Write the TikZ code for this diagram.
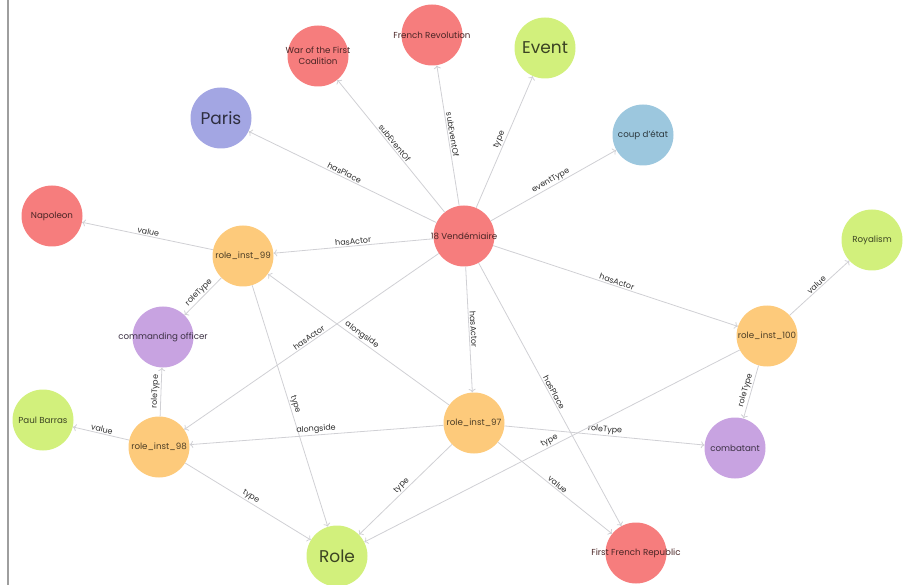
\documentclass[tikz,border=0pt]{standalone}
\usepackage{fontspec}
\setmainfont{Poppins}
\usetikzlibrary{arrows.meta}

\definecolor{nred}{HTML}{F67D7D}
\definecolor{ngreen}{HTML}{D2F07C}
\definecolor{nblue}{HTML}{A3A6E3}
\definecolor{ncyan}{HTML}{9CC7DE}
\definecolor{norange}{HTML}{FDCA7B}
\definecolor{npurple}{HTML}{C8A3E1}
\definecolor{edgegray}{HTML}{D0D0D4}
\definecolor{labelgray}{HTML}{2E2E2E}

% zero-width text so a circle keeps its size when its caption is wide
\newcommand{\nolw}[1]{\makebox[0pt]{#1}}

\begin{document}
\begin{tikzpicture}[x=1pt,y=-1pt,
  ent/.style={circle, minimum size=61pt, inner sep=0pt, align=center,
              font=\fontsize{8.7}{11}\selectfont},
  big/.style={font=\fontsize{17}{20}\selectfont},
  rednode/.style={ent, fill=nred, text=nred!30!black},
  greennode/.style={ent, fill=ngreen, text=ngreen!28!black},
  bluenode/.style={ent, fill=nblue, text=nblue!28!black},
  cyannode/.style={ent, fill=ncyan, text=ncyan!28!black},
  orangenode/.style={ent, fill=norange, text=norange!30!black},
  purplenode/.style={ent, fill=npurple, text=npurple!30!black},
  rel/.style={draw=edgegray, line width=0.8pt, -{To[length=3.5pt,width=7pt]}},
  lbl/.style={midway, sloped, above=0pt, inner sep=1.2pt, text=labelgray,
              font=\fontsize{8}{9}\selectfont}
]
\useasboundingbox (0,0) rectangle (905,585);

% frame line on the left
\draw[line width=2pt, color=black!38] (8,0) -- (8,585);

% entities
\node[rednode]    (V)   at (464,236) {\nolw{18 Vendémiaire}};
\node[rednode]    (war) at (318,56)  {\nolw{War of the First}\\\nolw{Coalition}};
\node[rednode]    (fr)  at (432,35)  {\nolw{French Revolution}};
\node[greennode,big] (ev) at (545,48) {Event};
\node[bluenode,big]  (paris) at (221,118) {Paris};
\node[cyannode]   (coup) at (643,135) {coup d'état};
\node[rednode]    (nap) at (52,216)  {Napoleon};
\node[orangenode] (r99) at (243,256) {\nolw{role\_inst\_99}};
\node[greennode]  (roy) at (872,240) {Royalism};
\node[orangenode] (r100) at (767,336) {\nolw{role\_inst\_100}};
\node[purplenode] (co)  at (163,337) {\nolw{commanding officer}};
\node[greennode]  (pb)  at (43,420)  {\nolw{Paul Barras}};
\node[orangenode] (r98) at (159,447) {\nolw{role\_inst\_98}};
\node[orangenode] (r97) at (474,423) {\nolw{role\_inst\_97}};
\node[purplenode] (comb) at (735,448) {\nolw{combatant}};
\node[greennode,big] (role) at (337,556) {Role};
\node[rednode]    (ffr) at (636,553) {\nolw{First French Republic}};

% relations
\draw[rel] (V) -- node[lbl]{subEventOf} (war);
\draw[rel] (V) -- node[lbl]{subEventOf} (fr);
\draw[rel] (V) -- node[lbl]{type} (ev);
\draw[rel] (V) -- node[lbl]{hasPlace} (paris);
\draw[rel] (V) -- node[lbl]{eventType} (coup);
\draw[rel] (V) -- node[lbl]{hasActor} (r99);
\draw[rel] (V) -- node[lbl]{hasActor} (r100);
\draw[rel] (V) -- node[lbl]{hasActor} (r98);
\draw[rel] (V) -- node[lbl]{hasActor} (r97);
\draw[rel] (V) -- node[lbl]{hasPlace} (ffr);

\draw[rel] (r99) -- node[lbl]{value} (nap);
\draw[rel] (r99) -- node[lbl]{roleType} (co);
\draw[rel] (r99) -- node[lbl]{type} (role);

\draw[rel] (r97) -- node[lbl]{alongside} (r99);
\draw[rel] (r97) -- node[lbl]{alongside} (r98);
\draw[rel] (r97) -- node[lbl]{type} (role);
\draw[rel] (r97) -- node[lbl]{roleType} (comb);
\draw[rel] (r97) -- node[lbl]{value} (ffr);

\draw[rel] (r98) -- node[lbl]{roleType} (co);
\draw[rel] (r98) -- node[lbl]{value} (pb);
\draw[rel] (r98) -- node[lbl]{type} (role);

\draw[rel] (r100) -- node[lbl]{value} (roy);
\draw[rel] (r100) -- node[lbl]{roleType} (comb);
\draw[rel] (r100) -- node[lbl]{type} (role);
\end{tikzpicture}
\end{document}
